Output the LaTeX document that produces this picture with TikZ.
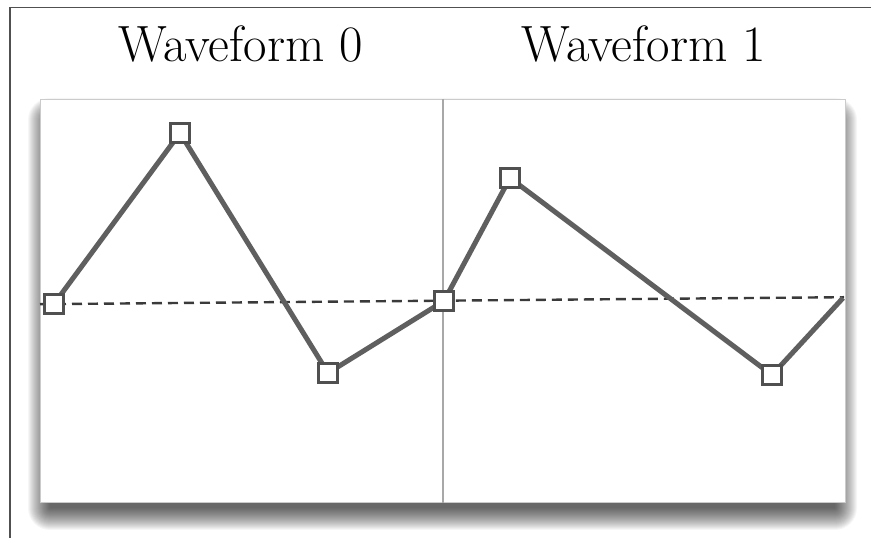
\documentclass[tikz,border=0pt]{standalone}
\usepackage{fontspec}
\setmainfont{Latin Modern Roman}
\definecolor{wave}{HTML}{5F5F5F}
\definecolor{frame}{HTML}{505050}
\definecolor{divider}{HTML}{A8A8A8}
\definecolor{dash}{HTML}{3A3A3A}
\tikzset{
  marker/.style={draw=frame, fill=white, line width=2.4pt, minimum size=19pt, inner sep=0pt, shape=rectangle},
  waveline/.style={draw=wave, line width=5pt, line join=round},
  refline/.style={draw=dash, line width=2.4pt, dash pattern=on 10pt off 6pt},
  title/.style={font=\fontsize{51}{56}\selectfont, text=black, anchor=base},
}
\begin{document}
\begin{tikzpicture}[x=1pt,y=1pt]
\useasboundingbox (0,0) rectangle (871,538);
\fill[white] (0,0) rectangle (871,538);
% frame
\draw[frame, line width=1.3pt] (10,0) -- (10,530.5) -- (871,530.5);
% titles
\node[title] (t0) at (241,476) {Waveform 0};
\node[title] (t1) at (644,476) {Waveform 1};
% shadow
\foreach \i in {0,...,22} {
  \fill[black, opacity=0.035, rounded corners=\i pt] (50-\i, 30-\i) rectangle (835+\i, 418+\i);
}
% panel
\node[draw=divider!60, line width=0.6pt, fill=white, minimum width=805pt, minimum height=403pt, inner sep=0pt, anchor=south west] (panel) at (40,35) {};
\draw[divider, line width=1.5pt] (panel.south west) ++(403,0) coordinate (dvb) -- (dvb |- panel.north);
% dashed reference
\coordinate (r0) at (40,233.8);
\coordinate (r1) at (844,240.8);
\draw[refline] (r0) -- (r1);
% waveform
\coordinate (a0) at (54,234);
\coordinate (a1) at (180,405);
\coordinate (a2) at (328,165);
\coordinate (a3) at (444,237);
\coordinate (b1) at (510,360);
\coordinate (b2) at (772,163);
\coordinate (bend) at (843,240);
\draw[waveline] (a0) -- (a1) -- (a2) -- (a3) -- (b1) -- (b2) -- (bend);
\node[marker] (m0) at (a0) {};
\node[marker] (m1) at (a1) {};
\node[marker] (m2) at (a2) {};
\node[marker] (m3) at (a3) {};
\node[marker] (m4) at (b1) {};
\node[marker] (m5) at (b2) {};
\end{tikzpicture}
\end{document}
